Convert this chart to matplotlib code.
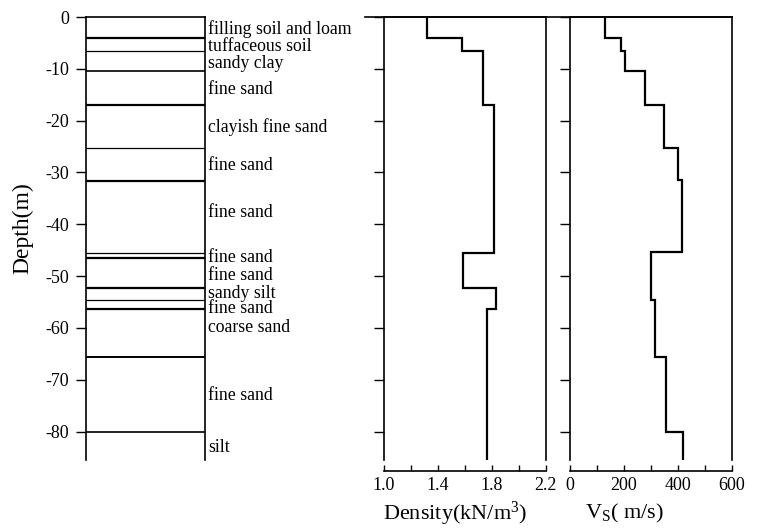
import numpy as np
import matplotlib
matplotlib.use("Agg")
import matplotlib.pyplot as plt
from matplotlib.lines import Line2D
from matplotlib.ticker import MultipleLocator

plt.rcParams['font.family'] = ['Liberation Serif', 'DejaVu Serif']
plt.rcParams['mathtext.fontset'] = 'custom'
plt.rcParams['mathtext.rm'] = 'Liberation Serif'
plt.rcParams['mathtext.it'] = 'Liberation Serif:italic'

# ---------------- data ----------------
layer_boundaries = [-4.1, -6.5, -10.5, -17.0, -25.3, -31.7, -45.6, -46.6,
                    -52.3, -54.6, -56.3, -65.7, -80.0]
layer_names = ["filling soil and loam", "tuffaceous soil", "sandy clay", "fine sand",
               "clayish fine sand", "fine sand", "fine sand", "fine sand", "fine sand",
               "sandy silt", "fine sand", "coarse sand", "fine sand", "silt"]
label_depths = [-2.3, -5.6, -8.9, -13.9, -21.2, -28.6, -37.7, -46.5, -49.9,
                -53.3, -56.3, -60.0, -73.0, -83.0]

density_breaks = [0, -4.1, -6.5, -17.0, -45.5, -52.3, -56.3, -85.5]
density_values = [1.32, 1.58, 1.74, 1.82, 1.59, 1.83, 1.77]

vs_breaks = [0, -4.1, -6.5, -10.4, -17.0, -25.3, -31.5, -45.4, -54.6, -65.6, -80.0, -85.5]
vs_values = [130, 190, 205, 280, 350, 400, 415, 300, 315, 355, 420]

depth_ticks = [0, -10, -20, -30, -40, -50, -60, -70, -80]
density_ticks = [1.0, 1.4, 1.8, 2.2]
density_tick_labels = ['1.0', '1.4', '1.8', '2.2']
vs_ticks = [0, 200, 400, 600]

# ---------------- styling ----------------
boundary_lw = [1.6, 0.9, 1.2, 1.6, 0.9, 1.6, 0.9, 1.6, 1.6, 0.9, 1.6, 1.4, 1.2]
W, H = 757, 528
YMIN, YMAX = -85.5, 0.0
top_px, bot_px = 17, 460


def rect(x0, x1):
    return [x0 / W, 1 - bot_px / H, (x1 - x0) / W, (bot_px - top_px) / H]


def steps(breaks, values):
    xs, ys = [], []
    for i, v in enumerate(values):
        xs += [v, v]
        ys += [breaks[i], breaks[i + 1]]
    return xs, ys


fig = plt.figure(figsize=(W / 100, H / 100), dpi=100)

# ---- strata column ----
ax0 = fig.add_axes(rect(86, 205))
ax0.set_ylim(YMIN, YMAX)
ax0.set_xlim(0, 1)
for b, lw in zip(layer_boundaries, boundary_lw):
    ax0.axhline(b, color='black', lw=lw)
for name, d in zip(layer_names, label_depths):
    ax0.text(1.025, d, name, transform=ax0.get_yaxis_transform(), fontsize=12.8,
             va='center', ha='left', clip_on=False)
ax0.set_yticks(depth_ticks)
ax0.set_yticklabels([str(t) for t in depth_ticks])
ax0.set_xticks([])
ax0.spines['bottom'].set_visible(False)
for s in ['left', 'right', 'top']:
    ax0.spines[s].set_linewidth(1.2)
ax0.tick_params(axis='y', direction='out', length=7, width=1, pad=5, labelsize=13)
fig.text(23 / W, 1 - 228 / H, 'Depth(m)', rotation=90, fontsize=17,
         ha='center', va='center')

# ---- density ----
ax1 = fig.add_axes(rect(383.5, 545.5))
xs, ys = steps(density_breaks, density_values)
ax1.plot(xs, ys, color='black', lw=1.6, solid_joinstyle='miter')
ax1.set_xlim(1.0, 2.2)
ax1.set_ylim(YMIN, YMAX)
ax1.set_yticks(depth_ticks)
ax1.set_yticklabels([])
ax1.tick_params(axis='y', direction='out', length=7, width=1)
ax1.set_xticks(density_ticks)
ax1.set_xticklabels(density_tick_labels)
ax1.xaxis.set_minor_locator(MultipleLocator(0.2))
ax1.tick_params(axis='x', which='both', direction='in', length=4, width=1, pad=4,
                labelsize=13)
ax1.spines['bottom'].set_position(('outward', 8))
for s in ['left', 'right', 'top', 'bottom']:
    ax1.spines[s].set_linewidth(1.2)
fig.text(455 / W, 1 - 514 / H, r'Density(kN/m$^{3}$)', fontsize=16,
         ha='center', va='center')

# ---- Vs ----
ax2 = fig.add_axes(rect(569.5, 732))
xs, ys = steps(vs_breaks, vs_values)
ax2.plot(xs, ys, color='black', lw=1.6, solid_joinstyle='miter')
ax2.set_xlim(0, 600)
ax2.set_ylim(YMIN, YMAX)
ax2.set_yticks(depth_ticks)
ax2.set_yticklabels([])
ax2.tick_params(axis='y', direction='out', length=7, width=1)
ax2.set_xticks(vs_ticks)
ax2.set_xticklabels([str(t) for t in vs_ticks])
ax2.xaxis.set_minor_locator(MultipleLocator(100))
ax2.tick_params(axis='x', which='both', direction='in', length=4, width=1, pad=4,
                labelsize=13)
ax2.spines['bottom'].set_position(('outward', 8))
for s in ['left', 'right', 'top', 'bottom']:
    ax2.spines[s].set_linewidth(1.2)
fig.text(625 / W, 1 - 513 / H, r'V$_{\mathrm{S}}$( m/s)', fontsize=16,
         ha='center', va='center')

# continuous top border across the two profile panels
fig.add_artist(Line2D([365 / W, 732 / W], [1 - top_px / H, 1 - top_px / H],
                      color='black', lw=1.2))

fig.savefig('out.png', dpi=100)
